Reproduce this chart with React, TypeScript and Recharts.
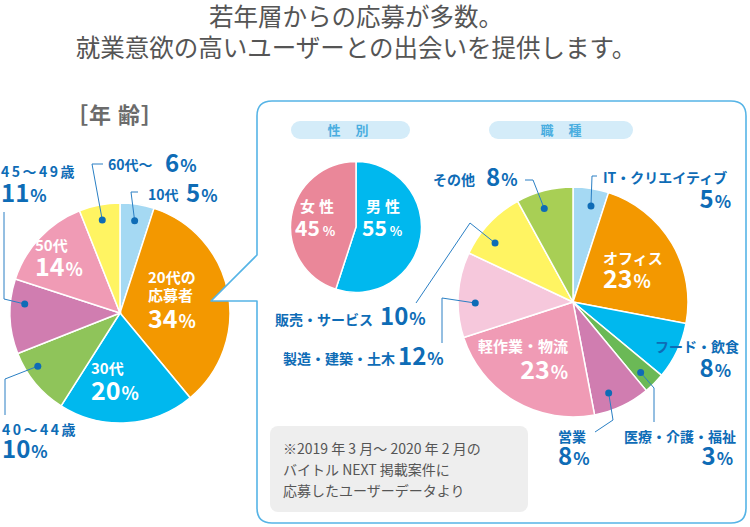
import React from "react";
import { PieChart, Pie, Cell } from "recharts";

// 年齢
const ageNames = ["10代", "20代の応募者", "30代", "40～44歳", "45～49歳", "50代", "60代～"];
const ageValues = [5, 34, 20, 10, 11, 14, 6];
const ageColors = ["#a5d9f3", "#f39800", "#00b8ee", "#8fc45a", "#d07db0", "#f09bb5", "#fff462"];

// 性別
const genderNames = ["男性", "女性"];
const genderValues = [55, 45];
const genderColors = ["#00b8ee", "#ea8799"];

// 職種
const jobNames = [
  "IT・クリエイティブ",
  "オフィス",
  "フード・飲食",
  "医療・介護・福祉",
  "営業",
  "軽作業・物流",
  "製造・建築・土木",
  "販売・サービス",
  "その他",
];
const jobValues = [5, 23, 8, 3, 8, 23, 12, 10, 8];
const jobColors = ["#a5d9f3", "#f39800", "#00b8ee", "#6bb956", "#d07db0", "#f09bb5", "#f6c8dc", "#fff462", "#a8cf55"];

const titleLines = ["若年層からの応募が多数。", "就業意欲の高いユーザーとの出会いを提供します。"];
const noteLines = ["※2019 年 3 月～ 2020 年 2 月の", "バイトル NEXT 掲載案件に", "応募したユーザーデータより"];

const ageData = ageNames.map((name, i) => ({ name, value: ageValues[i] }));
const genderData = genderNames.map((name, i) => ({ name, value: genderValues[i] }));
const jobData = jobNames.map((name, i) => ({ name, value: jobValues[i] }));

const FONT = "'Noto Sans CJK JP', 'Noto Sans', sans-serif";
const BLUE = "#0e6cb6";
const RAD = Math.PI / 180;

type Lbl = {
  inside?: boolean;
  br?: number;
  nx: number;
  ny: number;
  na?: "start" | "middle" | "end";
  vx: number;
  vy: number;
  va?: "start" | "middle" | "end";
  ns?: number;
  vs?: number;
  ps?: number;
  ls?: number;
  pdx?: number;
  r?: number;
  da?: number;
  noDot?: boolean;
  leader?: [number, number][];
};

// ラベル位置（テキストと引き出し線の折れ点）
const ageLayout: Lbl[] = [
  { nx: 148, ny: 200, vx: 186, vy: 202, leader: [[131, 192], [138, 192]] },
  { inside: true, br: 4, nx: 148, ny: 283, vx: 148, vy: 328, ns: 15, vs: 25, ps: 18 },
  { inside: true, nx: 91, ny: 374, vx: 91, vy: 400, ns: 15, vs: 25, ps: 18 },
  { nx: 2, ny: 435, vx: 2, vy: 458, ls: 2.5, r: 0.89, da: -6.7, leader: [[5, 379], [5, 415]] },
  { nx: 1, ny: 177, vx: 1, vy: 202, ls: 2.5, r: 0.87, da: -7.2, leader: [[4, 299], [4, 212]] },
  { inside: true, nx: 35, ny: 251, vx: 35, vy: 276, ns: 15, vs: 25, ps: 18 },
  { nx: 108, ny: 170, vx: 165, vy: 172, r: 0.86, leader: [[92, 164], [103, 164]] },
];

const genderLayout: Lbl[] = [
  { inside: true, nx: 366, ny: 212, vx: 362, vy: 236, ns: 15, vs: 21, ps: 13, ls: 4, pdx: 3 },
  { inside: true, nx: 300, ny: 212, vx: 295, vy: 236, ns: 15, vs: 21, ps: 13, ls: 4, pdx: 3 },
];

const jobLayout: Lbl[] = [
  { nx: 603, ny: 183, vx: 731, vy: 208, va: "end", da: -1.6, leader: [[592, 176], [597, 176]] },
  { inside: true, nx: 603, ny: 264, vx: 603, vy: 288, ns: 15, vs: 25, ps: 18 },
  { nx: 739, ny: 352, na: "end", vx: 731, vy: 377, va: "end", noDot: true },
  { nx: 736, ny: 442, na: "end", vx: 733, vy: 465, va: "end", da: -1.2, leader: [[654, 388], [654, 422]] },
  { nx: 558, ny: 442, vx: 558, vy: 465, da: -3.8, leader: [[613, 420], [595, 432]] },
  { inside: true, nx: 568, ny: 352, na: "end", vx: 568, vy: 379, va: "end", ns: 15, vs: 25, ps: 18 },
  { nx: 395, ny: 364, na: "end", vx: 398, vy: 365, da: 4.2, leader: [[442, 298], [442, 343]] },
  { nx: 373, ny: 325, na: "end", vx: 380, vy: 325, da: 6.1, leader: [[470, 223], [416, 303]] },
  { nx: 433, ny: 185, vx: 486, vy: 186, da: 2.7, leader: [[533, 180], [525, 180]] },
];

const makeLabel = (layout: Lbl[]) => (props: any) => {
  const { cx, cy, midAngle, outerRadius, index, name, value } = props;
  const L = layout[index];
  if (!L) return null;
  const color = L.inside ? "#ffffff" : BLUE;
  const lines: string[] = L.br ? [name.slice(0, L.br), name.slice(L.br)] : [name];
  const ns = L.ns ?? 14;
  const vs = L.vs ?? 24;
  const ps = L.ps ?? 17;

  let leader = null;
  if (!L.inside && !L.noDot) {
    const a = (midAngle + (L.da ?? 0)) * RAD;
    const r = outerRadius * (L.r ?? 0.85);
    const x = cx + r * Math.cos(a);
    const y = cy - r * Math.sin(a);
    const pts = [[x, y], ...(L.leader ?? [])].map((p) => p.join(",")).join(" ");
    leader = (
      <g>
        <polyline points={pts} fill='none' stroke='#2a7fc4' strokeWidth={1} />
        <circle cx={x} cy={y} r={3.5} fill={BLUE} />
      </g>
    );
  }

  return (
    <g style={{ fontFamily: FONT }}>
      {leader}
      {lines.map((t, i) => (
        <text
          key={i}
          x={L.nx}
          y={L.ny + i * 18}
          textAnchor={L.na ?? "start"}
          fill={color}
          fontSize={ns}
          fontWeight={700}
          letterSpacing={L.ls ?? 0}>
          {t}
        </text>
      ))}
      <text x={L.vx} y={L.vy} textAnchor={L.va ?? "start"} fill={color} fontWeight={700}>
        <tspan fontSize={vs}>{value}</tspan>
        <tspan fontSize={ps} dx={L.pdx ?? 1}>
          %
        </tspan>
      </text>
    </g>
  );
};

const Overlay = () => (
  <svg
    width={750}
    height={527}
    style={{ position: "absolute", left: 0, top: 0, pointerEvents: "none", fontFamily: FONT }}>
    {titleLines.map((t, i) => (
      <text key={i} x={356} y={26 + i * 31} textAnchor='middle' fontSize={24.5} fill='#555555'>
        {t}
      </text>
    ))}
    <text x={66} y={123} fontSize={22} fill='#6b6b6b' fontWeight={700} letterSpacing={1}>
      ［年 齢］
    </text>

    {/* 枠と吹き出し */}
    <polygon points='211,301 257,255 257,301' fill='#ffffff' />
    <path
      d='M257,255 L257,116 Q257,101 272,101 L731,101 Q746,101 746,116 L746,508 Q746,523 731,523 L272,523 Q257,523 257,508 L257,301 L211,301 Z'
      fill='none'
      stroke='#56b4e6'
      strokeWidth={1.6}
      strokeLinejoin='round'
    />

    <rect x={291} y={121} width={119} height={18} rx={9} fill='#d4ecf9' />
    <text x={351} y={135} textAnchor='middle' fontSize={13} fontWeight={700} fill='#4aaee0' letterSpacing={6}>
      性 別
    </text>
    <rect x={489} y={121} width={144} height={18} rx={9} fill='#d4ecf9' />
    <text x={564} y={135} textAnchor='middle' fontSize={13} fontWeight={700} fill='#4aaee0' letterSpacing={6}>
      職 種
    </text>

    <rect x={270} y={426} width={258} height={86} rx={8} fill='#eeeeee' />
    {noteLines.map((t, i) => (
      <text key={i} x={283} y={454 + i * 21} fontSize={14} fill='#555555'>
        {t}
      </text>
    ))}
  </svg>
);

const App: React.FC = () => {
  return (
    <div style={{ position: "absolute", left: 0, top: 0, width: 750, height: 527, background: "#ffffff" }}>
      <PieChart width={750} height={527} style={{ position: "absolute", left: 0, top: 0 }}>
        <Pie
          data={ageData}
          dataKey='value'
          cx={115}
          cy={308}
          outerRadius={110}
          startAngle={90}
          endAngle={-270}
          stroke='#ffffff'
          strokeWidth={1.5}
          label={makeLabel(ageLayout)}
          labelLine={false}
          isAnimationActive={false}>
          {ageData.map((d, i) => (
            <Cell key={d.name} fill={ageColors[i]} />
          ))}
        </Pie>
        <Pie
          data={genderData}
          dataKey='value'
          cx={351}
          cy={222}
          outerRadius={65.5}
          startAngle={90}
          endAngle={-270}
          stroke='#ffffff'
          strokeWidth={1.5}
          label={makeLabel(genderLayout)}
          labelLine={false}
          isAnimationActive={false}>
          {genderData.map((d, i) => (
            <Cell key={d.name} fill={genderColors[i]} />
          ))}
        </Pie>
        <Pie
          data={jobData}
          dataKey='value'
          cx={568}
          cy={297}
          outerRadius={115}
          startAngle={90}
          endAngle={-270}
          stroke='#ffffff'
          strokeWidth={1.5}
          label={makeLabel(jobLayout)}
          labelLine={false}
          isAnimationActive={false}>
          {jobData.map((d, i) => (
            <Cell key={d.name} fill={jobColors[i]} />
          ))}
        </Pie>
      </PieChart>
      <Overlay />
    </div>
  );
};

export default App;
